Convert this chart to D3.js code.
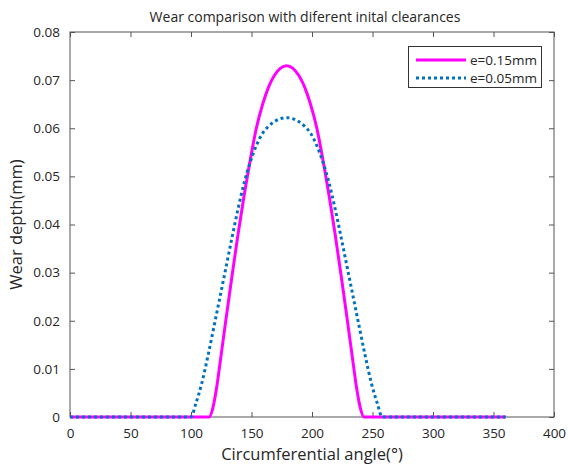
<!DOCTYPE html>
<html><head><meta charset="utf-8">
<script src="https://cdn.jsdelivr.net/npm/d3@7"></script>
<style>body{margin:0;background:#fff}svg{display:block}text{font-family:"Open Sans",sans-serif;fill:#262626}</style>
</head><body>
<svg id="c" width="568" height="467"></svg>
<script>
const xTicks = [0,50,100,150,200,250,300,350,400];
const yTicks = [0,0.01,0.02,0.03,0.04,0.05,0.06,0.07,0.08];
const seriesNames = ["e=0.15mm","e=0.05mm"];

const angleA = [0,115,118,121,124,129,134,139,144,149,154,159,164,169,174,179,184,189,194,199,204,209,214,219,224,229,234,237,240,243,360];
const wearA  = [0,0,0.0018,0.0058,0.0112,0.0205,0.0295,0.0382,0.0462,0.0535,0.0600,0.0648,0.0685,0.0710,0.0725,0.0730,0.0725,0.0710,0.0685,0.0648,0.0600,0.0535,0.0462,0.0382,0.0295,0.0205,0.0112,0.0058,0.0018,0,0];

const angleB = [0,100,104,109,114,119,124,129,134,139,144,149,154,159,164,169,174,179,184,189,194,199,204,209,214,219,224,229,234,239,244,249,254,258,360];
const wearB  = [0,0,0.0028,0.0071,0.0127,0.0188,0.0250,0.0312,0.0374,0.0434,0.0487,0.0530,0.0564,0.0589,0.0604,0.0614,0.0620,0.0622,0.0620,0.0614,0.0604,0.0589,0.0564,0.0530,0.0487,0.0434,0.0374,0.0312,0.0250,0.0188,0.0127,0.0071,0.0028,0,0];

const L=70,R=554,T=32,B=417;
const svg=d3.select("#c");
const x=d3.scaleLinear().domain([0,400]).range([L,R]);
const y=d3.scaleLinear().domain([0,0.08]).range([B,T]);
const axisColor="#555";
const fmtY=d=>d===0?"0":d3.format(".2f")(d);

const gx=svg.append("g").attr("transform",`translate(0,${B})`)
  .call(d3.axisBottom(x).tickValues(xTicks).tickSizeInner(-5).tickSizeOuter(0).tickPadding(11));
const gy=svg.append("g").attr("transform",`translate(${L},0)`)
  .call(d3.axisLeft(y).tickValues(yTicks).tickFormat(fmtY).tickSizeInner(-5).tickSizeOuter(0).tickPadding(10));
const gxt=svg.append("g").attr("transform",`translate(0,${T})`)
  .call(d3.axisTop(x).tickValues(xTicks).tickSizeInner(-5).tickSizeOuter(0).tickFormat(""));
const gyr=svg.append("g").attr("transform",`translate(${R},0)`)
  .call(d3.axisRight(y).tickValues(yTicks).tickSizeInner(-5).tickSizeOuter(0).tickFormat(""));
[gx,gy,gxt,gyr].forEach(g=>{
  g.selectAll("path,line").attr("stroke",axisColor);
  g.selectAll("text").style("font-size","13.5px").attr("fill","#262626");
  g.select(".domain").remove();
});
svg.append("rect").attr("x",L).attr("y",T).attr("width",R-L).attr("height",B-T)
  .attr("fill","none").attr("stroke",axisColor).attr("stroke-width",1);

const line=d3.line().x(d=>x(d[0])).y(d=>y(d[1])).curve(d3.curveMonotoneX);
svg.append("path").datum(angleA.map((a,i)=>[a,wearA[i]])).attr("d",line)
  .attr("fill","none").attr("stroke","#ff00ff").attr("stroke-width",3);
svg.append("path").datum(angleB.map((a,i)=>[a,wearB[i]])).attr("d",line)
  .attr("fill","none").attr("stroke","#0072bd").attr("stroke-width",3).attr("stroke-dasharray","3,3");

// title & labels
svg.append("text").attr("x",305).attr("y",22).attr("text-anchor","middle").style("font-size","14px")
  .text("Wear comparison with diferent inital clearances");
svg.append("text").attr("x",(L+R)/2).attr("y",460).attr("text-anchor","middle").style("font-size","16.5px")
  .text("Circumferential angle(°)");
svg.append("text").attr("transform",`translate(22,${(T+B)/2}) rotate(-90)`).attr("text-anchor","middle").style("font-size","16.5px")
  .text("Wear depth(mm)");

// legend
const lg=svg.append("g");
lg.append("rect").attr("x",408.5).attr("y",46.5).attr("width",133).attr("height",41)
  .attr("fill","#fff").attr("stroke","#333").attr("stroke-width",1);
const rows=[{c:"#ff00ff",d:null,yy:60},{c:"#0072bd",d:"3,3",yy:78}];
rows.forEach((r,i)=>{
  lg.append("line").attr("x1",416).attr("x2",466).attr("y1",r.yy).attr("y2",r.yy)
    .attr("stroke",r.c).attr("stroke-width",3).attr("stroke-dasharray",r.d);
  lg.append("text").attr("x",470).attr("y",r.yy).attr("dy","0.35em").style("font-size","13.5px").text(seriesNames[i]);
});
</script>
</body></html>
